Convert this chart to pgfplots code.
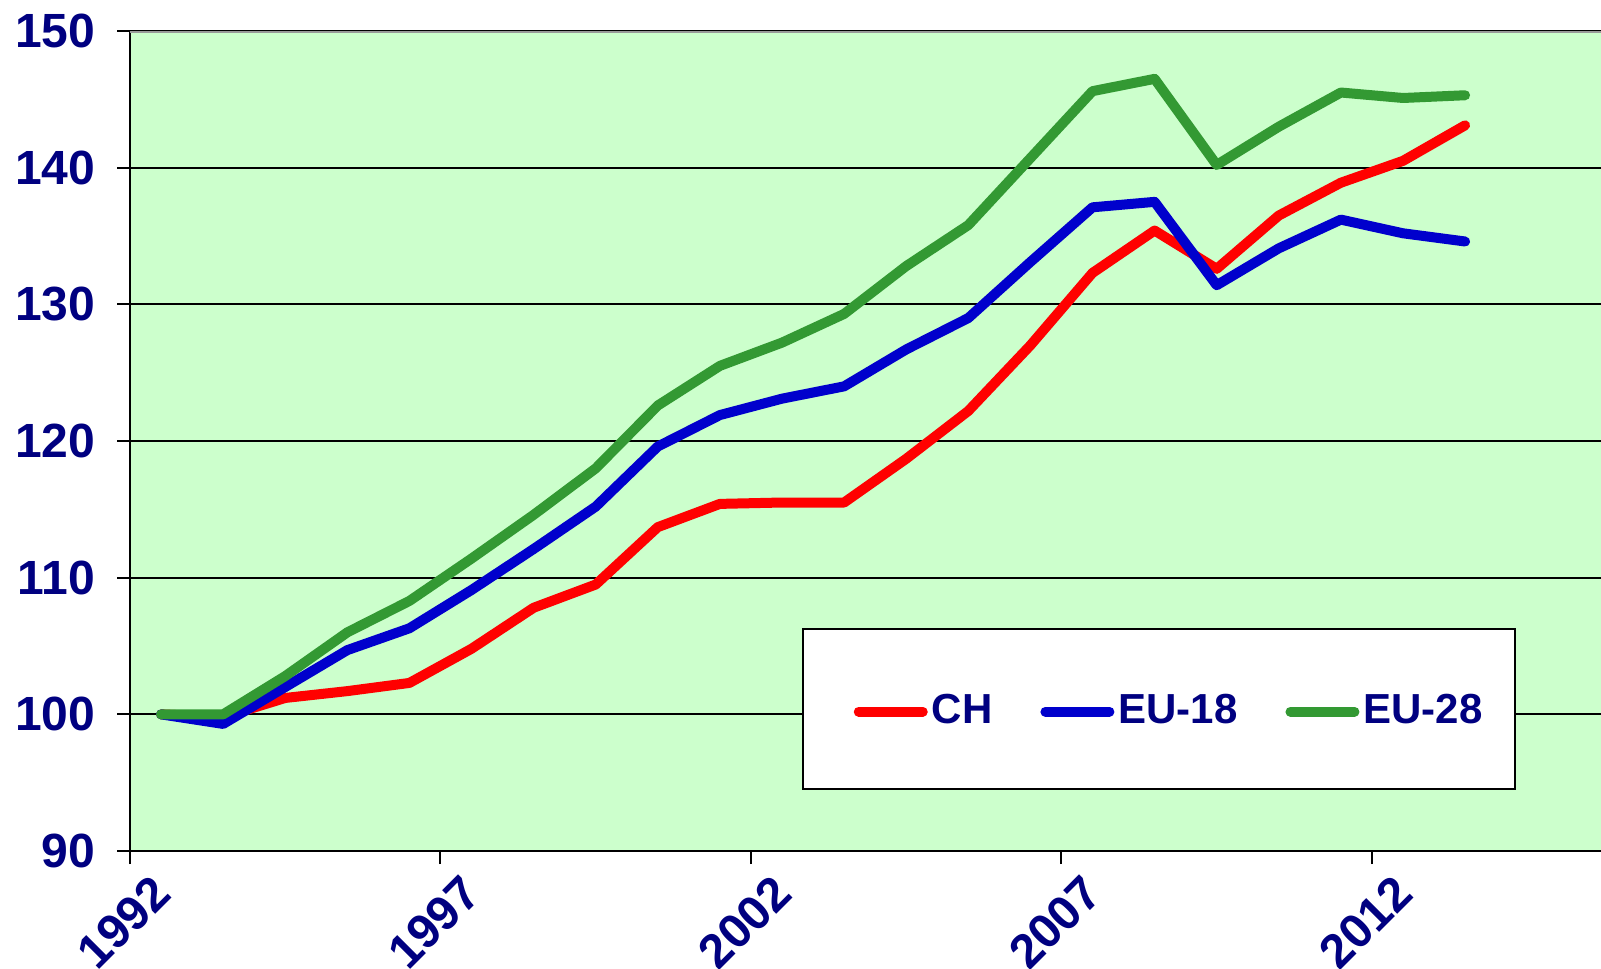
\documentclass[border=0pt]{standalone}
\usepackage{pgfplots}
\pgfplotsset{compat=1.18}
\usepackage{fontspec}
\setmainfont{Liberation Sans}
\definecolor{navy}{RGB}{0,0,128}
\definecolor{bg}{RGB}{204,255,204}
\definecolor{cred}{RGB}{255,0,0}
\definecolor{cblue}{RGB}{0,0,204}
\definecolor{cgreen}{RGB}{51,153,51}
\begin{document}
\begin{tikzpicture}
\begin{axis}[
  at={(32.5pt,29.25pt)}, anchor=south west,
  scale only axis, width=388.1pt, height=205pt,
  xmin=1992, xmax=2017, ymin=90, ymax=150,
  xtick={1992,1997,2002,2007,2012}, ytick={90,100,...,150},
  axis lines*=left,
  axis line style={black, line width=0.5pt},
  tick align=outside, major tick length=3.25pt,
  tick style={black, line width=0.5pt},
  ymajorgrids, major grid style={black, line width=0.5pt},
  axis background/.style={fill=bg},
  /pgf/number format/assume math mode=true,
  /pgf/number format/1000 sep={},
  tick label style={font=\fontsize{12}{14}\selectfont\bfseries, text=navy},
  yticklabel style={anchor=east, inner sep=0pt, xshift=-5.25pt},
  xticklabel style={anchor=east, inner sep=0pt, xshift=8pt, yshift=-5pt, rotate=45},
  legend columns=3,
  legend style={at={(axis cs:2008.75,100.2)}, anchor=center, draw=none, fill=none,
    font=\fontsize{10.5}{12}\selectfont\bfseries, text=navy,
    /tikz/every even column/.append style={column sep=11pt},
    nodes={inner sep=1pt}},
  legend image code/.code={\path (0.5pt,0pt) -- (16.5pt,0pt);\draw[#1, line width=2.5pt, line cap=round] (1.25pt,0pt) -- (16.25pt,0pt);},
  every axis plot/.append style={line width=2.5pt, line cap=round, line join=round},
]
\draw[gray!80, line width=0.75pt] (axis cs:1992,150) -- (axis cs:2017,150);
\draw[black, fill=white, line width=0.6pt] (axis cs:2002.84,106.25) rectangle (axis cs:2014.30,94.54);
\addplot[cred] coordinates {
(1992.5,100.0) (1993.5,99.8) (1994.5,101.2) (1995.5,101.7) (1996.5,102.3)
(1997.5,104.8) (1998.5,107.8) (1999.5,109.5) (2000.5,113.7) (2001.5,115.4)
(2002.5,115.5) (2003.5,115.5) (2004.5,118.7) (2005.5,122.2) (2006.5,127.0)
(2007.5,132.3) (2008.5,135.4) (2009.5,132.6) (2010.5,136.5) (2011.5,138.9)
(2012.5,140.5) (2013.5,143.1)};
\addlegendentry{CH}
\addplot[cblue] coordinates {
(1992.5,100.0) (1993.5,99.3) (1994.5,102.0) (1995.5,104.7) (1996.5,106.3)
(1997.5,109.1) (1998.5,112.1) (1999.5,115.2) (2000.5,119.6) (2001.5,121.9)
(2002.5,123.1) (2003.5,124.0) (2004.5,126.7) (2005.5,129.0) (2006.5,133.1)
(2007.5,137.1) (2008.5,137.5) (2009.5,131.4) (2010.5,134.1) (2011.5,136.2)
(2012.5,135.2) (2013.5,134.6)};
\addlegendentry{EU-18}
\addplot[cgreen] coordinates {
(1992.5,100.0) (1993.5,100.0) (1994.5,102.8) (1995.5,106.0) (1996.5,108.3)
(1997.5,111.4) (1998.5,114.6) (1999.5,118.0) (2000.5,122.6) (2001.5,125.5)
(2002.5,127.2) (2003.5,129.3) (2004.5,132.8) (2005.5,135.8) (2006.5,140.7)
(2007.5,145.6) (2008.5,146.5) (2009.5,140.2) (2010.5,143.0) (2011.5,145.5)
(2012.5,145.1) (2013.5,145.3)};
\addlegendentry{EU-28}
\end{axis}
\pgfresetboundingbox
\path[use as bounding box] (0pt,0pt) rectangle (400.25pt,242pt);
\end{tikzpicture}
\end{document}
